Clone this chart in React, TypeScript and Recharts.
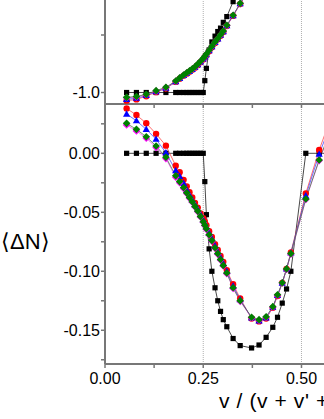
import React from 'react';
import { LineChart, Line, XAxis, YAxis, ReferenceLine } from 'recharts';

// v / (v + v' + v'') grid shared by every series
const xs = [0.055, 0.08, 0.105, 0.13, 0.155, 0.18, 0.19, 0.2, 0.208, 0.215, 0.222, 0.229, 0.236, 0.243, 0.25, 0.254, 0.258, 0.265, 0.272, 0.28, 0.287, 0.294, 0.301, 0.31, 0.326, 0.344, 0.373, 0.392, 0.41, 0.427, 0.439, 0.451, 0.462, 0.473, 0.511, 0.545, 0.58];

// lower panel, <ΔN>
const blackBottom = [0, 0, 0, 0, 0, 0, 0, 0, 0, 0, 0, 0, 0, 0, 0, -0.024, -0.052, -0.081, -0.1, -0.114, -0.125, -0.134, -0.141, -0.147, -0.157, -0.163, -0.165, -0.1625, -0.156, -0.1475, -0.139, -0.127, -0.115, -0.1, 0, 0, 0];
const redBottom = [0.038, 0.0325, 0.0255, 0.0165, 0.0065, -0.0105, -0.016, -0.0225, -0.028, -0.033, -0.0375, -0.042, -0.046, -0.051, -0.055, -0.058, -0.061, -0.066, -0.071, -0.077, -0.082, -0.087, -0.092, -0.099, -0.111, -0.123, -0.14, -0.1425, -0.14, -0.131, -0.121, -0.11, -0.098, -0.084, -0.034, 0.0028, 0.035];
const blueBottom = [0.0333, 0.0276, 0.0203, 0.0119, 0.0005, -0.0147, -0.0195, -0.0255, -0.031, -0.0355, -0.0395, -0.0435, -0.0475, -0.052, -0.0565, -0.0595, -0.0625, -0.0675, -0.0725, -0.0785, -0.0835, -0.0885, -0.0935, -0.1, -0.1125, -0.124, -0.1395, -0.142, -0.1395, -0.1305, -0.1205, -0.11, -0.098, -0.0845, -0.036, -0.0008, 0.03];
const magentaBottom = [0.024, 0.019, 0.0128, 0.005, -0.0045, -0.0202, -0.025, -0.0298, -0.034, -0.038, -0.0415, -0.0455, -0.0495, -0.054, -0.0585, -0.0615, -0.0645, -0.0695, -0.0745, -0.0805, -0.0855, -0.0905, -0.0955, -0.102, -0.1145, -0.1255, -0.1395, -0.1415, -0.139, -0.1305, -0.1205, -0.11, -0.0985, -0.0855, -0.0392, -0.0062, 0.024];
const greenBottom = [0.0254, 0.0203, 0.0141, 0.0062, -0.0034, -0.019, -0.024, -0.029, -0.0335, -0.0375, -0.041, -0.045, -0.049, -0.0535, -0.058, -0.061, -0.064, -0.069, -0.074, -0.08, -0.085, -0.09, -0.095, -0.1015, -0.114, -0.125, -0.139, -0.141, -0.1385, -0.13, -0.12, -0.1097, -0.098, -0.085, -0.0387, -0.0057, 0.025];

// upper panel (only the lower part is visible)
const blackTop = [-1, -1, -1, -1, -1, -1, -1, -1, -1, -1, -1, -1, -1, -1, -1, -0.897, -0.79, -0.63, -0.56, -0.51, -0.47, -0.44, -0.39, -0.34, -0.21, -0.08, null, null, null, null, null, null, null, null, null, null, null];
const redTop = [-1.071, -1.06, -1.032, -0.997, -0.965, -0.908, -0.88, -0.855, -0.836, -0.82, -0.803, -0.784, -0.762, -0.737, -0.712, -0.694, -0.674, -0.641, -0.606, -0.569, -0.538, -0.506, -0.473, -0.422, -0.334, -0.231, -0.065, null, null, null, null, null, null, null, null, null, null];
const blueTop = [-1.059, -1.05, -1.026, -0.992, -0.962, -0.905, -0.877, -0.852, -0.832, -0.816, -0.799, -0.78, -0.758, -0.733, -0.708, -0.69, -0.67, -0.637, -0.602, -0.565, -0.534, -0.502, -0.47, -0.419, -0.331, -0.228, -0.062, null, null, null, null, null, null, null, null, null, null];
const magentaTop = [-1.046, -1.039, -1.02, -0.988, -0.958, -0.903, -0.876, -0.851, -0.831, -0.815, -0.798, -0.779, -0.756, -0.731, -0.706, -0.688, -0.668, -0.635, -0.6, -0.564, -0.533, -0.501, -0.469, -0.418, -0.33, -0.227, -0.062, null, null, null, null, null, null, null, null, null, null];
const greenTop = [-1.042, -1.035, -1.016, -0.984, -0.955, -0.9, -0.873, -0.848, -0.828, -0.812, -0.795, -0.776, -0.753, -0.728, -0.703, -0.685, -0.665, -0.632, -0.597, -0.561, -0.53, -0.498, -0.466, -0.415, -0.328, -0.225, -0.06, null, null, null, null, null, null, null, null, null, null];

const xTicks = [0, 0.125, 0.25, 0.375, 0.5];
const xLabelled = [0, 0.25, 0.5];
const yTicksTop = [-1.0, -0.5];
const yLabelledTop = [-1.0];
const yTicksBottom = [-0.175, -0.15, -0.125, -0.1, -0.075, -0.05, -0.025, 0, 0.025];
const yLabelledBottom = [-0.15, -0.1, -0.05, 0];
const guides = [0.25, 0.5];

const bottomRows = xs.map((x, i) => ({ x, black: blackBottom[i], red: redBottom[i], blue: blueBottom[i], magenta: magentaBottom[i], green: greenBottom[i] }));
const topRows = xs.map((x, i) => ({ x, black: blackTop[i], red: redTop[i], blue: blueTop[i], magenta: magentaTop[i], green: greenTop[i] }));

const AXIS = '#777';
const has = (list: number[], v: number) => list.some((t) => Math.abs(t - v) < 1e-9);

const square = (p: any) => {
  const { cx, cy, index } = p;
  if (cx == null || cy == null) return <g key={`s${index}`} />;
  return <rect key={`s${index}`} x={cx - 2.6} y={cy - 2.6} width={5.2} height={5.2} fill="#000" />;
};
const circle = (p: any) => {
  const { cx, cy, index } = p;
  if (cx == null || cy == null) return <g key={`c${index}`} />;
  return <circle key={`c${index}`} cx={cx} cy={cy} r={3.2} fill="#ff0000" />;
};
const triangle = (p: any) => {
  const { cx, cy, index } = p;
  if (cx == null || cy == null) return <g key={`t${index}`} />;
  return <polygon key={`t${index}`} points={`${cx},${cy - 3.8} ${cx - 3.6},${cy + 2.6} ${cx + 3.6},${cy + 2.6}`} fill="#0000ff" />;
};
const diamond = (color: string, r: number) => (p: any) => {
  const { cx, cy, index } = p;
  if (cx == null || cy == null) return <g key={`d${index}`} />;
  return <polygon key={`d${index}`} points={`${cx},${cy - r} ${cx + r},${cy} ${cx},${cy + r} ${cx - r},${cy}`} fill={color} />;
};

function renderLines() {
  return [
    <Line key="black" dataKey="black" stroke="#333" strokeWidth={0.9} dot={square} activeDot={false} isAnimationActive={false} />,
    <Line key="red" dataKey="red" stroke="#ff3030" strokeWidth={0.7} dot={circle} activeDot={false} isAnimationActive={false} />,
    <Line key="blue" dataKey="blue" stroke="#3030ff" strokeWidth={0.7} dot={triangle} activeDot={false} isAnimationActive={false} />,
    <Line key="magenta" dataKey="magenta" stroke="#ff40ff" strokeWidth={0.7} dot={diamond('#ff00ff', 3.8)} activeDot={false} isAnimationActive={false} />,
    <Line key="green" dataKey="green" stroke="#2a7a2a" strokeWidth={0.7} dot={diamond('#008000', 3.8)} activeDot={false} isAnimationActive={false} />,
  ];
}

export default function App() {
  const tickStyle = { fill: '#000', fontSize: 16 };
  return (
    <div style={{ position: 'absolute', left: 0, top: 0, width: 324, height: 419, overflow: 'hidden', background: '#fff', fontFamily: "'Liberation Sans', Arial, sans-serif" }}>
      <div style={{ position: 'absolute', left: 0, top: 100 }}>
        <LineChart width={324} height={319} data={bottomRows} margin={{ top: 4, right: 0, bottom: 0, left: 0 }}>
          <XAxis dataKey="x" type="number" domain={[0, 0.5573]} allowDataOverflow ticks={xTicks} interval={0} height={55} tickSize={4} tickMargin={5}
            tickFormatter={(v: number) => (has(xLabelled, v) ? v.toFixed(2) : '')} tick={tickStyle}
            axisLine={{ stroke: AXIS, strokeWidth: 2 }} tickLine={{ stroke: AXIS, strokeWidth: 1.5 }} />
          <YAxis type="number" domain={[-0.1786, 0.0418]} allowDataOverflow ticks={yTicksBottom} interval={0} width={105} tickSize={4} tickMargin={1}
            tickFormatter={(v: number) => (has(yLabelledBottom, v) ? v.toFixed(2) : '')} tick={tickStyle}
            axisLine={{ stroke: AXIS, strokeWidth: 2 }} tickLine={{ stroke: AXIS, strokeWidth: 1.5 }} />
          {guides.map((g) => (
            <ReferenceLine key={g} x={g} stroke="#b0b0b0" strokeDasharray="1 1" strokeWidth={1} />
          ))}
          {renderLines()}
        </LineChart>
      </div>
      <div style={{ position: 'absolute', left: 0, top: 0 }}>
        <LineChart width={324} height={112} data={topRows} margin={{ top: 0, right: 0, bottom: 0, left: 0 }}>
          <XAxis dataKey="x" type="number" domain={[0, 0.5573]} allowDataOverflow ticks={xTicks} interval={0} height={8} tickSize={4}
            tickFormatter={() => ''} tick={tickStyle}
            axisLine={{ stroke: AXIS, strokeWidth: 2 }} tickLine={{ stroke: AXIS, strokeWidth: 1.5 }} />
          <YAxis type="number" domain={[-1.1, -0.1957]} allowDataOverflow ticks={yTicksTop} interval={0} width={105} tickSize={4} tickMargin={1}
            tickFormatter={(v: number) => (has(yLabelledTop, v) ? v.toFixed(1) : '')} tick={tickStyle}
            axisLine={{ stroke: AXIS, strokeWidth: 2 }} tickLine={{ stroke: AXIS, strokeWidth: 1.5 }} />
          {guides.map((g) => (
            <ReferenceLine key={g} x={g} stroke="#b0b0b0" strokeDasharray="1 1" strokeWidth={1} />
          ))}
          {renderLines()}
        </LineChart>
      </div>
      <div style={{ position: 'absolute', left: 1, top: 228, fontSize: 22, lineHeight: '28px', color: '#000' }}>⟨ΔN⟩</div>
      <div style={{ position: 'absolute', left: 219, top: 387, fontSize: 21, lineHeight: '28px', letterSpacing: '0.6px', color: '#000', whiteSpace: 'nowrap' }}>v / (v + v' + v'')</div>
    </div>
  );
}
